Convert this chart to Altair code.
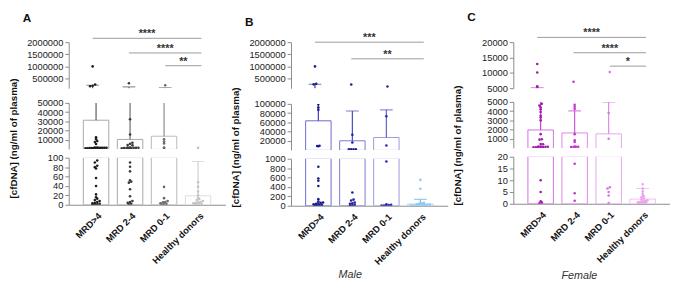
import json
from collections import defaultdict

import altair as alt
import pandas as pd

categories = ["MRD>4", "MRD 2-4", "MRD 0-1", "Healthy donors"]

# ---------------- Panel A (all patients), cfDNA ng/ml ----------------
a_mrd_gt4 = [1000000, 250000, 200000, 180000, 12700, 10600, 8500, 7400, 5300,
             1500, 1400, 1300, 1250, 1200, 1150, 1100, 1050, 1000, 950, 900, 850, 800, 750,
             94, 90, 83, 80, 77, 57, 40, 22, 16, 13, 10, 8, 6, 4, 3, 2, 1, 1, 0.5]
a_mrd_2_4 = [302000, 32200, 15600, 6700, 5500, 4300, 3900,
             1500, 1400, 1300, 1200, 1100, 1000, 950, 900, 850, 800,
             90, 81, 71, 52, 49, 47, 33, 18, 8, 6, 4, 2, 1]
a_mrd_0_1 = [220000, 10500, 8000, 6000, 1500, 1000, 38, 14, 8, 6, 5, 3, 2, 1, 0.5]
a_healthy = [1100, 48, 38, 28, 20, 15, 12, 10, 8, 6, 5, 4, 3, 2, 2, 1, 1]
a_mean = [31200, 10300, 13800, 19]
a_mean_plus_sd = [221000, 152000, 128000, 92]
a_sig_from = [0, 1, 2]
a_sig_to = [3, 3, 3]
a_sig_level = [2160000, 1555000, 1030000]
a_sig_label = ["****", "****", "**"]

# ---------------- Panel B (male) ----------------
b_mrd_gt4 = [1000000, 280000, 260000, 99000, 92000, 87000, 9000, 8500, 8000,
             830, 580, 530, 420, 140, 90, 70, 60, 50, 40, 30, 20, 15, 10, 5]
b_mrd_2_4 = [250000, 33000, 16000, 1500, 1400, 1300, 1200,
             280, 130, 110, 70, 50, 40, 20, 10, 5]
b_mrd_0_1 = [170000, 73000, 9500, 940, 30, 20, 15, 10, 5, 3]
b_healthy = [550, 360, 60, 50, 40, 30, 25, 20, 15, 12, 10, 8, 5, 3, 2]
b_mean = [63200, 19800, 27000, 35]
b_mean_plus_sd = [262000, 84500, 87000, 135]
b_sig_from = [0, 1]
b_sig_to = [3, 3]
b_sig_level = [2000000, 1313000]
b_sig_label = ["***", "**"]

# ---------------- Panel C (female) ----------------
c_mrd_gt4 = [12900, 10100, 5600, 5400, 4800, 4600, 4400, 4200, 3900, 3500, 3300, 3000,
             1500, 940, 900, 420, 400, 150, 140, 130, 120, 110, 100, 90, 80, 70,
             10, 5, 1, 0.5, 0.2]
c_mrd_2_4 = [7100, 4700, 4480, 4240, 1500, 830, 650, 150, 130, 120, 110, 100, 17, 4.5, 1.3]
c_mrd_0_1 = [10300, 3800, 1000, 7, 6.5, 5, 3.5, 0.3]
c_healthy = [8.3, 6.5, 5.2, 4, 3.2, 2.8, 2.2, 1.8, 1.5, 1.2, 1, 0.8, 0.6, 0.5, 0.4, 0.3, 0.2]
c_mean = [1950, 1630, 1530, 2]
c_mean_plus_sd = [5100, 4030, 4980, 6.5]
c_sig_from = [0, 1, 2]
c_sig_to = [3, 3, 3]
c_sig_level = [21560, 16560, 12190]
c_sig_label = ["****", "****", "*"]

# ---------------- styling ----------------
FONT = "Liberation Sans"
AX = "#8a8a8a"
SEG_H = {"top": 47, "mid": 47, "bot": 48}
PANEL_W = 160
XS = alt.Scale(domain=[-0.66, 3.66], nice=False, zero=False)

PANELS = [
    dict(letter="A", groups=[a_mrd_gt4, a_mrd_2_4, a_mrd_0_1, a_healthy],
         mean=a_mean, sdtop=a_mean_plus_sd,
         sig=(a_sig_from, a_sig_to, a_sig_level, a_sig_label),
         dom={"top": [100000, 2000000], "mid": [0, 50000], "bot": [0, 100]},
         ticks={"top": [500000, 1000000, 1500000, 2000000],
                "mid": [10000, 20000, 30000, 40000, 50000],
                "bot": [0, 20, 40, 60, 80, 100]},
         pt_col=["#1e1e1e", "#3a3a3a", "#6a6a6a", "#c4c4c4"],
         bar_col=["#a8a8a8", "#a8a8a8", "#b8b8b8", "#dcdcdc"],
         err_col=["#5a5a5a", "#6a6a6a", "#8a8a8a", "#cfcfcf"],
         xtitle=None, xtitle_x=0, xtitle_y=0, sp_top=7),
    dict(letter="B", groups=[b_mrd_gt4, b_mrd_2_4, b_mrd_0_1, b_healthy],
         mean=b_mean, sdtop=b_mean_plus_sd,
         sig=(b_sig_from, b_sig_to, b_sig_level, b_sig_label),
         dom={"top": [100000, 2000000], "mid": [0, 100000], "bot": [0, 1000]},
         ticks={"top": [500000, 1000000, 1500000, 2000000],
                "mid": [20000, 40000, 60000, 80000, 100000],
                "bot": [0, 200, 400, 600, 800, 1000]},
         pt_col=["#1c1c8a", "#22229a", "#2a2aaa", "#8ec9ef"],
         bar_col=["#6a6acc", "#7878d4", "#9a9ae2", "#a8d8f5"],
         err_col=["#3a3ab0", "#4646bc", "#6060c8", "#6ab8ea"],
         xtitle="Male", xtitle_x=60, xtitle_y=64, sp_top=8),
    dict(letter="C", groups=[c_mrd_gt4, c_mrd_2_4, c_mrd_0_1, c_healthy],
         mean=c_mean, sdtop=c_mean_plus_sd,
         sig=(c_sig_from, c_sig_to, c_sig_level, c_sig_label),
         dom={"top": [5000, 20000], "mid": [0, 5000], "bot": [0, 20]},
         ticks={"top": [5000, 10000, 15000, 20000],
                "mid": [1000, 2000, 3000, 4000, 5000],
                "bot": [0, 5, 10, 15, 20]},
         pt_col=["#a21caf", "#c03ccc", "#d27ade", "#eaa5ea"],
         bar_col=["#d46ee0", "#de86e6", "#e6a6ec", "#f0c0f0"],
         err_col=["#c23ccf", "#cc55d8", "#dd8ae6", "#eaaaea"],
         xtitle="Female", xtitle_x=67, xtitle_y=67, sp_top=4),
]


def seg_of(p, v):
    if v <= p["dom"]["bot"][1]:
        return "bot"
    if v <= p["dom"]["mid"][1]:
        return "mid"
    return "top"


def points_frame(p):
    rows = []
    for gi, vals in enumerate(p["groups"]):
        bins = defaultdict(list)
        for v in vals:
            s = seg_of(p, v)
            lo, hi = p["dom"][s]
            px = (v - lo) / (hi - lo) * SEG_H[s]
            bins[(s, round(px / 2.6))].append(v)
        for (s, _), vs in bins.items():
            n = len(vs)
            stp = 0.07 if n < 2 else min(0.07, 0.62 / (n - 1))
            for k, v in enumerate(sorted(vs)):
                rows.append(dict(xj=gi + (k - (n - 1) / 2) * stp, value=v, seg=s,
                                 col=p["pt_col"][gi]))
    return pd.DataFrame(rows)


def summary_frame(p):
    return pd.DataFrame(dict(idx=list(range(4)), mean=p["mean"], sdtop=p["sdtop"],
                             bcol=p["bar_col"], ecol=p["err_col"],
                             cseg=[seg_of(p, v) for v in p["sdtop"]]))


def segment(p, seg, pts, summ):
    lo, hi = p["dom"][seg]
    pad = (hi - lo) * 0.5 / SEG_H[seg]        # half a pixel, hidden by clipping
    ys = alt.Scale(domain=[lo, hi], nice=False, zero=False)
    thr = {"bot": -1e18, "mid": p["dom"]["bot"][1], "top": p["dom"]["mid"][1]}[seg]

    yaxis = alt.Axis(values=p["ticks"][seg], grid=False, tickSize=4, tickColor=AX,
                     domainColor=AX, labelColor="#222", labelFontSize=9.5, labelPadding=2,
                     labelOverlap=False, format="d", labelFont=FONT, title=None)

    if seg == "bot":
        xkw = dict(values=[0, 1, 2, 3], labelExpr=json.dumps(categories) + "[datum.value]",
                   labelAngle=-45, labelAlign="right", labelBaseline="top",
                   labelFontWeight="bold", labelFontSize=9.5, labelColor="#111",
                   labelPadding=6, labelOverlap=False, labelBound=False, ticks=False,
                   domainColor=AX, grid=False, labelFont=FONT)
        if p["xtitle"]:
            xkw.update(title=p["xtitle"], titleFontStyle="italic", titleFontWeight="normal",
                       titleFontSize=11, titleColor="#333", titleX=p["xtitle_x"],
                       titleY=p["xtitle_y"], titleFont=FONT)
        else:
            xkw.update(title=None)
        xaxis = alt.Axis(**xkw)
    else:
        xaxis = None

    def X(field):
        return alt.X(field, scale=XS, axis=xaxis)

    def Y(field):
        return alt.Y(field, scale=ys, axis=yaxis)

    layers = []
    # invisible carrier of the axes, placed inside the segment
    carrier = pd.DataFrame(dict(idx=[0, 3], yv=[lo, lo]))
    layers.append(alt.Chart(carrier).mark_point(opacity=0).encode(
        x=X("idx:Q"), y=Y("yv:Q")))

    bars = summ[summ["mean"] > thr].copy()
    if len(bars):
        bars["btop"] = bars["mean"].clip(upper=hi + pad)
        bars["base"] = 0 if seg == "bot" else lo - pad
        layers.append(alt.Chart(bars).mark_bar(size=26, fill="white", strokeWidth=1,
                                               clip=True).encode(
            x=X("idx:Q"), y=Y("btop:Q"), y2=alt.Y2("base:Q"),
            stroke=alt.Stroke("bcol:N", scale=None)))

    rules = summ[(summ["sdtop"] > thr) & (summ["mean"] < hi)].copy()
    if len(rules):
        rules["r1"] = rules["mean"].clip(lower=lo - pad)
        rules["r2"] = rules["sdtop"].clip(upper=hi + pad)
        layers.append(alt.Chart(rules).mark_rule(strokeWidth=1.2, clip=True).encode(
            x=X("idx:Q"), y=Y("r1:Q"), y2=alt.Y2("r2:Q"),
            color=alt.Color("ecol:N", scale=None)))

    caps = summ[summ["cseg"] == seg]
    if len(caps):
        layers.append(alt.Chart(caps).mark_tick(orient="horizontal", size=13, thickness=1.2,
                                                clip=True).encode(
            x=X("idx:Q"), y=Y("sdtop:Q"),
            color=alt.Color("ecol:N", scale=None)))

    sp = pts[pts["seg"] == seg]
    if len(sp):
        layers.append(alt.Chart(sp).mark_circle(size=7, opacity=1, clip=True).encode(
            x=X("xj:Q"), y=Y("value:Q"),
            color=alt.Color("col:N", scale=None)))

    props = dict(width=PANEL_W, height=SEG_H[seg])
    if seg == "top":
        f, t, lev, lab = p["sig"]
        sig = pd.DataFrame(dict(x1=f, x2=t, level=lev, label=lab,
                                xm=[(a + b) / 2 for a, b in zip(f, t)]))
        layers.append(alt.Chart(sig).mark_rule(color="#9a9a9a", strokeWidth=1).encode(
            x=X("x1:Q"), x2="x2:Q", y=Y("level:Q")))
        layers.append(alt.Chart(sig).mark_text(fontSize=11, fontWeight="bold", color="#333",
                                               baseline="alphabetic", dy=-1, font=FONT).encode(
            x=X("xm:Q"), y=Y("level:Q"), text="label:N"))
        props["title"] = alt.TitleParams(text=p["letter"], anchor="start", frame="group",
                                         dx=-47, fontSize=12, fontWeight="bold",
                                         color="#111", offset=4, font=FONT)

    return alt.layer(*layers).properties(**props)


panels = []
for p in PANELS:
    pts = points_frame(p)
    summ = summary_frame(p)
    top = segment(p, "top", pts, summ)
    mid = segment(p, "mid", pts, summ)
    bot = segment(p, "bot", pts, summ)
    lower = alt.vconcat(mid, bot, spacing=1)
    stack = alt.vconcat(top, lower, spacing=p["sp_top"],
                        title=alt.TitleParams(text="[cfDNA] (ng/ml of plasma)", orient="left",
                                              anchor="middle", fontSize=10, fontWeight="bold",
                                              color="#111", offset=4, font=FONT))
    panels.append(stack)

chart = alt.hconcat(*panels, spacing=5).properties(
    padding={"left": 0, "top": 0, "right": 0, "bottom": 0}
).configure(font=FONT).configure_view(stroke=None)

chart.save("out.html", embed_options={"renderer": "svg", "actions": False})
